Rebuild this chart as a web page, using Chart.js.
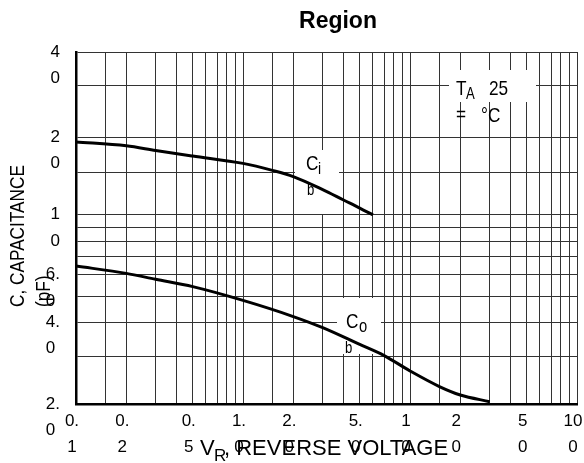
<!DOCTYPE html>
<html>
<head>
<meta charset="utf-8">
<script src="https://cdn.jsdelivr.net/npm/chart.js@4/dist/chart.umd.min.js"></script>
<style>
html,body{margin:0;padding:0;background:#fff;}
#wrap{width:584px;height:463px;position:relative;}
</style>
</head>
<body>
<div id="wrap"><canvas id="c" width="584" height="463"></canvas></div>
<script>
// ---- data ----
const cibVoltage = [0.1, 0.2, 0.3, 0.5, 1.0, 1.5, 2.0, 3.0, 4.0, 5.0, 6.0];
const cibCap     = [18.6, 18.0, 17.3, 16.5, 15.5, 14.6, 13.85, 12.4, 11.35, 10.6, 10.0];
const cobVoltage = [0.1, 0.2, 0.3, 0.5, 1.0, 2.0, 3.0, 5.0, 7.0, 10, 15, 20, 30];
const cobCap     = [6.47, 6.08, 5.78, 5.43, 4.83, 4.21, 3.83, 3.32, 3.02, 2.65, 2.32, 2.16, 2.04];

const xGridValues = [0.1,0.15,0.2,0.3,0.4,0.5,0.6,0.7,0.8,0.9,1,1.5,2,3,4,5,6,7,8,9,10,15,20,30,40,50,60,70,80,90,100];
const xTickValues = [0.1, 0.2, 0.5, 1, 2, 5, 10, 20, 50, 100];
const xTickLabels = [['0.','1'],['0.','2'],['0.','5'],['1.','0'],['2.','0'],['5.','0'],['1','0'],['2','0'],['5','0'],['10','0']];

const yGridValues = [2,3,4,5,6,7,8,9,10,14.3,19.3,30,40];
const yTickValues = [2, 4, 6, 10, 19.3, 40];
const yTickLabels = [['2.','0 '],['4.','0 '],['6.','0 '],['1','0'],['2','0'],['4','0']];

const REG = "'Liberation Sans',Arial,sans-serif";

function findLabel(values, labels, v) {
  for (let i = 0; i < values.length; i++) {
    if (Math.abs(values[i] - v) / values[i] < 1e-6) return labels[i];
  }
  return '';
}

// draw text with a condensed look (horizontal squeeze)
function narrowText(ctx, text, x, y, size, sx) {
  ctx.save();
  ctx.translate(x, y);
  ctx.scale(sx === undefined ? 0.82 : sx, 1);
  ctx.font = size + 'px ' + REG;
  ctx.fillText(text, 0, 0);
  ctx.restore();
}

const annotations = {
  id: 'annotations',
  beforeDatasetsDraw(chart) {
    const ctx = chart.ctx;
    ctx.save();
    ctx.fillStyle = '#fff';
    // label backgrounds hiding the grid
    ctx.fillRect(295, 150, 44, 64);   // C_ib
    ctx.fillRect(337, 298, 44, 56);   // C_ob
    ctx.fillRect(449, 70, 87, 32);    // T_A
    ctx.restore();
  },
  afterDatasetsDraw(chart) {
    const ctx = chart.ctx;
    ctx.save();
    ctx.fillStyle = '#000';
    ctx.textBaseline = 'alphabetic';

    // Title
    ctx.font = 'bold 23px ' + REG;
    ctx.textAlign = 'center';
    ctx.fillText('Region', 338, 28);

    ctx.textAlign = 'left';
    // C_ib label
    narrowText(ctx, 'C', 306, 170, 21);
    narrowText(ctx, 'i', 318, 174, 17);
    narrowText(ctx, 'b', 307, 195, 16);

    // C_ob label
    narrowText(ctx, 'C', 346, 328, 21);
    narrowText(ctx, 'o', 359, 332, 18);
    narrowText(ctx, 'b', 345, 353, 16);

    // T_A = 25 °C
    narrowText(ctx, 'T', 456, 95, 21);
    narrowText(ctx, 'A', 466, 99, 16);
    narrowText(ctx, '25', 489, 95, 21);
    narrowText(ctx, '=', 456, 121, 21);
    narrowText(ctx, '\u00B0C', 481, 122, 21);

    // X axis title
    ctx.font = '22px ' + REG;
    ctx.fillText('V', 200, 455);
    narrowText(ctx, 'R', 214, 461, 17, 1);
    ctx.font = '22px ' + REG;
    ctx.fillText(', REVERSE VOLTAGE', 224, 455);

    // Y axis title (two lines, rotated)
    ctx.save();
    ctx.translate(24, 307);
    ctx.rotate(-Math.PI / 2);
    narrowText(ctx, 'C, CAPACITANCE', 0, 0, 21);
    ctx.restore();
    ctx.save();
    ctx.translate(50, 307);
    ctx.rotate(-Math.PI / 2);
    narrowText(ctx, '(pF)', 0, 0, 21);
    ctx.restore();

    ctx.restore();
  }
};

const toPoints = (xs, ys) => xs.map((x, i) => ({x: x, y: ys[i]}));

new Chart(document.getElementById('c'), {
  type: 'line',
  data: {
    datasets: [
      { label: 'Cib', data: toPoints(cibVoltage, cibCap), borderColor: '#000', borderWidth: 3,
        pointRadius: 0, cubicInterpolationMode: 'monotone', fill: false },
      { label: 'Cob', data: toPoints(cobVoltage, cobCap), borderColor: '#000', borderWidth: 3,
        pointRadius: 0, cubicInterpolationMode: 'monotone', fill: false }
    ]
  },
  options: {
    responsive: false,
    animation: false,
    devicePixelRatio: 1,
    layout: { padding: { top: 52, right: 7, left: 0, bottom: 0 } },
    plugins: { legend: { display: false }, tooltip: { enabled: false }, title: { display: false } },
    scales: {
      x: {
        type: 'logarithmic',
        min: 0.1, max: 100,
        afterBuildTicks: s => { s.ticks = xGridValues.map(v => ({ value: v })); },
        afterFit: s => { s.height = 59; s.paddingLeft = 0; s.paddingRight = 0; },
        grid: { color: '#333', lineWidth: 1, drawTicks: false },
        border: { display: true, color: '#000', width: 2.5 },
        ticks: {
          autoSkip: false, maxRotation: 0, minRotation: 0, padding: 4, labelOffset: -4,
          color: '#000',
          font: { family: REG, size: 17, lineHeight: 1.55 },
          callback: v => findLabel(xTickValues, xTickLabels, v)
        }
      },
      y: {
        type: 'logarithmic',
        min: 2, max: 40,
        afterBuildTicks: s => { s.ticks = yGridValues.map(v => ({ value: v })); },
        afterFit: s => { s.width = 76; s.paddingTop = 0; s.paddingBottom = 0; },
        grid: { color: '#333', lineWidth: 1, drawTicks: false },
        border: { display: true, color: '#000', width: 2.5 },
        ticks: {
          autoSkip: false, padding: 16, labelOffset: 13,
          color: '#000',
          font: { family: REG, size: 17, lineHeight: 1.55 },
          callback: v => findLabel(yTickValues, yTickLabels, v)
        }
      }
    }
  },
  plugins: [annotations]
});
</script>
</body>
</html>
